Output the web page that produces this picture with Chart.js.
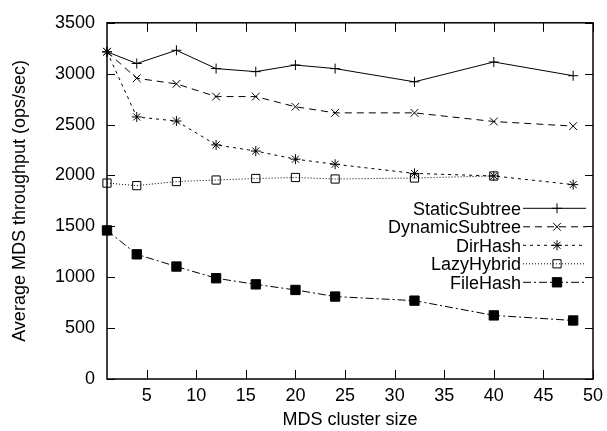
<!DOCTYPE html>
<html>
<head>
<meta charset="utf-8">
<script src="https://cdn.jsdelivr.net/npm/chart.js@4"></script>
<style>
  html, body { margin: 0; padding: 0; background: #fff; }
  #wrap { width: 607px; height: 431px; }
</style>
</head>
<body>
<div id="wrap"><canvas id="mdsChart" width="607" height="431"></canvas></div>
<script>
// Datos
const clusterSizes = [1, 4, 8, 12, 16, 20, 24, 32, 40, 48];
const staticSubtree = [3215, 3100, 3230, 3050, 3020, 3085, 3050, 2920, 3115, 2980];
const dynamicSubtree = [3215, 2955, 2900, 2775, 2775, 2675, 2615, 2615, 2530, 2485];
const dirHash = [3215, 2575, 2535, 2300, 2240, 2160, 2110, 2020, 1995, 1910];
const lazyHybrid = [1925, 1900, 1940, 1955, 1970, 1980, 1965, 1975, 1995, null];
const fileHash = [1460, 1225, 1105, 990, 930, 875, 810, 770, 625, 575];
const seriesNames = ['StaticSubtree', 'DynamicSubtree', 'DirHash', 'LazyHybrid', 'FileHash'];
const xTicks = [5, 10, 15, 20, 25, 30, 35, 40, 45, 50];
const yTicks = [0, 500, 1000, 1500, 2000, 2500, 3000, 3500];

const FONT = { family: '"Liberation Sans", Arial, sans-serif', size: 18 };

function toPoints(values) {
    return clusterSizes.map((x, i) => ({ x: x, y: values[i] }));
}

function makeSet(label, values, dash, style, radius, fill) {
    return {
        label: label,
        data: toPoints(values),
        borderColor: '#000',
        borderWidth: 1,
        borderDash: dash,
        pointStyle: style,
        pointRadius: radius,
        pointBorderWidth: 1,
        pointBorderColor: '#000',
        pointBackgroundColor: fill,
        backgroundColor: fill,
        tension: 0,
        fill: false,
        spanGaps: false,
        clip: false
    };
}

const datasets = [
    makeSet(seriesNames[0], staticSubtree, [], 'cross', 5, 'rgba(0,0,0,0)'),
    makeSet(seriesNames[1], dynamicSubtree, [7, 5], 'crossRot', 5.5, 'rgba(0,0,0,0)'),
    makeSet(seriesNames[2], dirHash, [3, 4], 'star', 5, 'rgba(0,0,0,0)'),
    makeSet(seriesNames[3], lazyHybrid, [1, 2], 'rect', 5.8, 'rgba(0,0,0,0)'),
    makeSet(seriesNames[4], fileHash, [8, 3, 2, 3], 'rect', 6.6, '#000')
];

// Marco, marcas hacia dentro y leyenda estilo gnuplot
const framePlugin = {
    id: 'frame',
    afterDatasetsDraw(chart) {
        const ctx = chart.ctx;
        const a = chart.chartArea;
        const x = chart.scales.x;
        const y = chart.scales.y;
        ctx.save();
        ctx.strokeStyle = '#000';
        ctx.lineWidth = 1;
        ctx.setLineDash([]);
        ctx.beginPath();
        xTicks.forEach(v => {
            const px = Math.round(x.getPixelForValue(v)) + 0.5;
            ctx.moveTo(px, a.bottom); ctx.lineTo(px, a.bottom - 9);
            ctx.moveTo(px, a.top); ctx.lineTo(px, a.top + 9);
        });
        yTicks.forEach(v => {
            const py = Math.round(y.getPixelForValue(v)) + 0.5;
            ctx.moveTo(a.left, py); ctx.lineTo(a.left + 8, py);
            ctx.moveTo(a.right, py); ctx.lineTo(a.right - 8, py);
        });
        ctx.stroke();
        ctx.lineWidth = 1.5;
        ctx.strokeRect(a.left, a.top, a.right - a.left, a.bottom - a.top);

        // leyenda
        ctx.font = FONT.size + 'px ' + FONT.family;
        ctx.textAlign = 'right';
        ctx.textBaseline = 'alphabetic';
        chart.data.datasets.forEach((ds, i) => {
            const ly = a.top + 185.5 + i * 18.5;
            ctx.fillStyle = '#000';
            ctx.fillText(ds.label, a.right - 72, ly + 6.5);
            ctx.lineWidth = 1;
            ctx.setLineDash(ds.borderDash);
            ctx.beginPath();
            ctx.moveTo(a.right - 70, ly);
            ctx.lineTo(a.right - 7, ly);
            ctx.stroke();
            ctx.setLineDash([]);
            ctx.fillStyle = ds.pointBackgroundColor;
            Chart.helpers.drawPoint(ctx, {
                pointStyle: ds.pointStyle,
                radius: ds.pointRadius,
                rotation: 0,
                borderWidth: 1
            }, a.right - 36, ly);
        });
        ctx.restore();
    }
};

new Chart(document.getElementById('mdsChart'), {
    type: 'line',
    data: { datasets: datasets },
    options: {
        responsive: false,
        animation: false,
        devicePixelRatio: 1,
        layout: { padding: { left: 9, right: 14, top: 20, bottom: 0 } },
        plugins: {
            legend: { display: false },
            tooltip: { enabled: false }
        },
        scales: {
            x: {
                type: 'linear',
                min: 1,
                max: 50,
                grid: { display: false, drawTicks: false },
                border: { display: false },
                ticks: {
                    color: '#000', font: FONT, padding: 6, maxRotation: 0,
                    callback: v => String(v)
                },
                afterBuildTicks: function(scale) {
                    scale.ticks = xTicks.map(v => ({ value: v }));
                },
                afterFit: function(scale) {
                    scale.height = 52;
                    scale.paddingLeft = 0;
                    scale.paddingRight = 0;
                },
                title: {
                    display: true,
                    text: 'MDS cluster size',
                    color: '#000',
                    font: FONT,
                    padding: 0
                }
            },
            y: {
                type: 'linear',
                min: 0,
                max: 3500,
                grid: { display: false, drawTicks: false },
                border: { display: false },
                ticks: {
                    color: '#000', font: FONT, padding: 12,
                    callback: v => String(v)
                },
                afterBuildTicks: function(scale) {
                    scale.ticks = yTicks.map(v => ({ value: v }));
                },
                afterFit: function(scale) {
                    scale.width = 98;
                },
                title: {
                    display: true,
                    text: 'Average MDS throughput (ops/sec)',
                    color: '#000',
                    font: FONT,
                    padding: 0
                }
            }
        }
    },
    plugins: [framePlugin]
});
</script>
</body>
</html>
